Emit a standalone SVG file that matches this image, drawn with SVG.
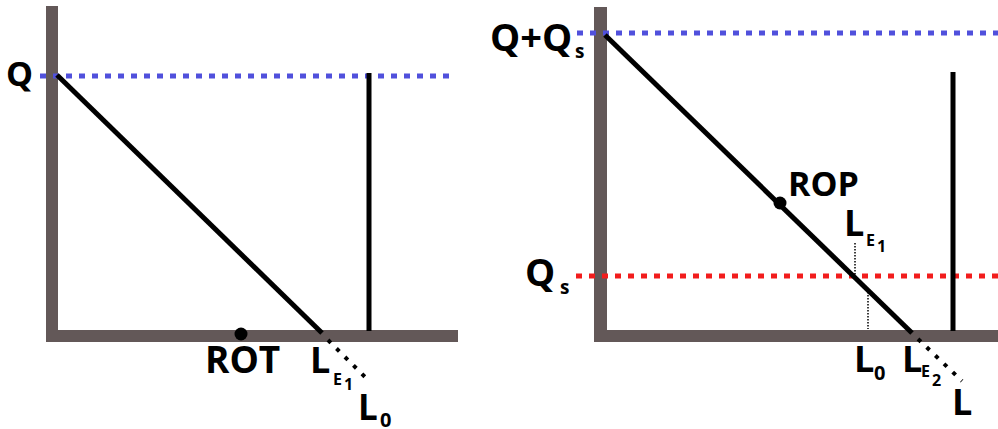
<svg xmlns="http://www.w3.org/2000/svg" width="998" height="429" viewBox="0 0 998 429">
<style>
.t{font-family:"Open Sans","DejaVu Sans",sans-serif;font-weight:bold;fill:#000}
.axis{fill:#635858}
.blk{stroke:#000;stroke-width:5;fill:none}
.dotk{stroke:#000;stroke-width:4;stroke-dasharray:4 8;fill:none}
.blue{stroke:#5050dc;stroke-width:5;stroke-dasharray:6 7;fill:none}
.red{stroke:#f21c1c;stroke-width:5;stroke-dasharray:6 7;fill:none}
.thin{stroke:#000;stroke-width:1.5;stroke-dasharray:1.5 1.5;fill:none}
</style>
<rect width="998" height="429" fill="#fff"/>
<g id="left-panel">
  <g id="left-axes">
    <rect class="axis" x="46" y="6" width="12" height="336"/>
    <rect class="axis" x="46" y="330" width="412" height="12"/>
  </g>
  <g id="connectors-left">
    <line class="blue" x1="40" y1="76" x2="456" y2="76"/>
    <line class="blk" x1="57" y1="75" x2="322" y2="333"/>
    <line class="blk" x1="369" y1="73" x2="369" y2="331"/>
    <line class="dotk" x1="328" y1="340" x2="370" y2="382"/>
  </g>
  <g id="rot"><circle cx="241" cy="334" r="6.5" fill="#000"/><text class="t" x="205" y="373" font-size="37">ROT</text></g>
  <g id="q-left"><text class="t" x="6" y="86" font-size="34">Q</text></g>
  <g id="le1-left"><text class="t" x="310" y="373" font-size="36">L</text><text class="t" x="333" y="385" font-size="16">E</text><text class="t" x="344" y="390" font-size="16">1</text></g>
  <g id="l0-left"><text class="t" x="358" y="420" font-size="35">L</text><text class="t" x="380" y="427" font-size="20">0</text></g>
</g>
<g id="right-panel">
  <g id="right-axes">
    <rect class="axis" x="594" y="7" width="13" height="335"/>
    <rect class="axis" x="594" y="330" width="404" height="12"/>
  </g>
  <g id="connectors-right">
    <line class="blue" x1="577" y1="33" x2="998" y2="33"/>
    <line class="red" x1="576" y1="276" x2="998" y2="276"/>
    <line class="blk" x1="605" y1="35" x2="912" y2="333"/>
    <line class="blk" x1="953" y1="72" x2="953" y2="331"/>
    <line class="dotk" x1="918" y1="339" x2="962" y2="381"/>
    <line class="thin" x1="855" y1="243" x2="855" y2="276"/>
    <line class="thin" x1="868" y1="292" x2="868" y2="329"/>
  </g>
  <g id="qqs"><text class="t" x="490" y="51" font-size="38">Q+Q</text><text class="t" x="575" y="58" font-size="19">s</text></g>
  <g id="qs"><text class="t" x="525" y="286" font-size="38">Q</text><text class="t" x="560" y="294" font-size="19">s</text></g>
  <g id="rop"><circle cx="780" cy="203" r="6.5" fill="#000"/><text class="t" x="788" y="196" font-size="34">ROP</text></g>
  <g id="le1-right"><text class="t" x="844" y="236" font-size="36">L</text><text class="t" x="866" y="246" font-size="16">E</text><text class="t" x="877" y="252" font-size="16">1</text></g>
  <g id="l0-right"><text class="t" x="854" y="372" font-size="36">L</text><text class="t" x="874" y="380" font-size="20">0</text></g>
  <g id="le2-right"><text class="t" x="902" y="372" font-size="36">L</text><text class="t" x="921" y="377" font-size="16">E</text><text class="t" x="932" y="386" font-size="16">2</text></g>
  <g id="l-right"><text class="t" x="952" y="415" font-size="36">L</text></g>
</g>
</svg>
